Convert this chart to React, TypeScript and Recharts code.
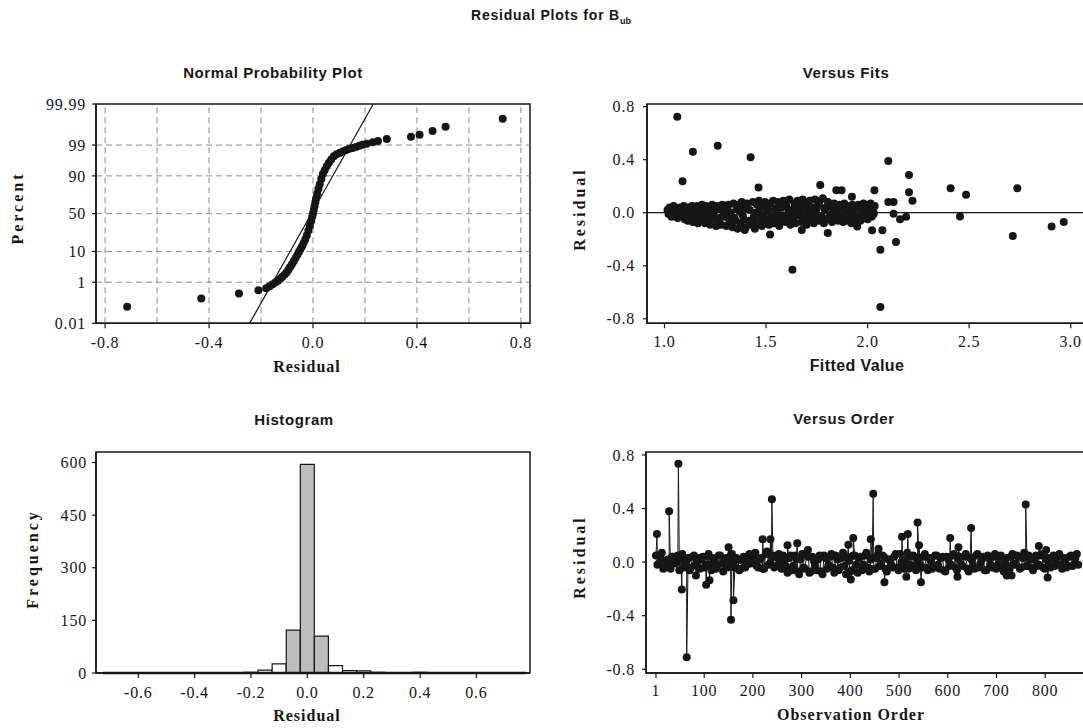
import React from 'react';
import {
  ScatterChart,
  Scatter,
  BarChart,
  Bar,
  Cell,
  XAxis,
  YAxis,
  ReferenceLine,
  ReferenceArea,
} from 'recharts';

// ---- Normal probability plot: [residual, percent]
const normalPoints: [number, number][] = [
  [-0.715, 0.08], [-0.43, 0.2], [-0.285, 0.34], [-0.21, 0.47], [-0.18, 0.57],
  [-0.168, 0.68], [-0.156, 0.82], [-0.145, 0.97], [-0.135, 1.15], [-0.126, 1.35],
  [-0.118, 1.6], [-0.11, 1.9], [-0.102, 2.3], [-0.095, 2.8], [-0.088, 3.5],
  [-0.081, 4.3], [-0.074, 5.3], [-0.067, 6.6], [-0.06, 8.2], [-0.054, 9.8],
  [-0.048, 11.5], [-0.042, 13.5], [-0.036, 16], [-0.03, 19], [-0.024, 23],
  [-0.018, 28], [-0.012, 34], [-0.007, 40], [-0.003, 46], [0.0, 50],
  [0.003, 55], [0.006, 60], [0.009, 65], [0.012, 70], [0.016, 75],
  [0.021, 80], [0.026, 84], [0.032, 88], [0.038, 91], [0.045, 93],
  [0.053, 94.6], [0.061, 95.8], [0.07, 96.7], [0.08, 97.4], [0.091, 97.8],
  [0.104, 98.05], [0.116, 98.3], [0.128, 98.45], [0.14, 98.6], [0.152, 98.7],
  [0.165, 98.82], [0.178, 98.93], [0.19, 99.02], [0.207, 99.12], [0.23, 99.22],
  [0.25, 99.32], [0.284, 99.43], [0.377, 99.55], [0.41, 99.63], [0.46, 99.75],
  [0.51, 99.84], [0.73, 99.936],
];
const normalFitLine: [number, number][] = [[-0.244, 0.01], [0.232, 99.99]];
const percentTicks = [0.01, 1, 10, 50, 90, 99, 99.99];
const percentGrid = [1, 10, 50, 90, 99];
const normalResidTicks = [-0.8, -0.4, 0, 0.4, 0.8];
const normalResidGrid = [-0.8, -0.6, -0.4, -0.2, 0, 0.2, 0.4, 0.6, 0.8];

// ---- Versus fits: [fitted value, residual]
const fitsCluster: [number, number][] = [
  [1.015, 0.02], [1.02, -0.01], [1.025, 0.04], [1.035, -0.03], [1.04, 0.01], [1.045, 0.05],
  [1.055, -0.02], [1.06, 0.03], [1.065, -0.04], [1.075, 0.04], [1.08, 0.0], [1.085, -0.03],
  [1.095, 0.05], [1.1, -0.05], [1.105, 0.02], [1.115, -0.06], [1.12, 0.04], [1.125, -0.01],
  [1.135, 0.05], [1.14, -0.07], [1.145, 0.01], [1.155, -0.04], [1.16, 0.05], [1.165, -0.08],
  [1.175, 0.03], [1.18, -0.05], [1.185, 0.06], [1.195, -0.02], [1.2, -0.08], [1.205, 0.05],
  [1.215, -0.06], [1.22, 0.02], [1.225, -0.09], [1.235, 0.06], [1.24, -0.04], [1.245, 0.01],
  [1.255, -0.1], [1.26, 0.05], [1.265, -0.06], [1.275, 0.03], [1.28, -0.09], [1.285, 0.06],
  [1.295, -0.03], [1.3, 0.04], [1.305, -0.1], [1.315, 0.06], [1.32, -0.07], [1.325, 0.0],
  [1.335, -0.11], [1.34, 0.07], [1.345, -0.04], [1.355, 0.03], [1.36, -0.12], [1.365, 0.06],
  [1.375, -0.08], [1.38, 0.08], [1.385, -0.02], [1.395, 0.04], [1.4, -0.11], [1.405, 0.07],
  [1.415, -0.06], [1.42, 0.02], [1.425, -0.09], [1.435, 0.08], [1.44, -0.03], [1.445, -0.12],
  [1.455, 0.06], [1.46, -0.07], [1.465, 0.09], [1.475, -0.02], [1.48, -0.1], [1.485, 0.05],
  [1.495, 0.08], [1.5, -0.06], [1.505, 0.01], [1.515, -0.09], [1.52, 0.07], [1.525, -0.03],
  [1.535, 0.09], [1.54, -0.08], [1.545, 0.03], [1.555, -0.05], [1.56, 0.08], [1.565, -0.1],
  [1.575, 0.04], [1.58, -0.02], [1.585, 0.09], [1.595, -0.07], [1.6, 0.05], [1.605, -0.04],
  [1.615, 0.1], [1.62, -0.09], [1.625, 0.02], [1.635, -0.05], [1.64, 0.07], [1.645, -0.08],
  [1.655, 0.09], [1.66, -0.02], [1.665, 0.04], [1.675, -0.07], [1.68, 0.1], [1.685, -0.04],
  [1.695, 0.06], [1.7, -0.09], [1.705, 0.01], [1.715, 0.09], [1.72, -0.05], [1.725, 0.04],
  [1.735, -0.08], [1.74, 0.1], [1.745, -0.02], [1.755, 0.06], [1.76, -0.06], [1.765, 0.09],
  [1.775, -0.03], [1.78, 0.11], [1.785, -0.08], [1.795, 0.04], [1.8, -0.05], [1.805, 0.08],
  [1.815, -0.02], [1.82, 0.05], [1.825, -0.07], [1.835, 0.07], [1.84, -0.04], [1.845, 0.01],
  [1.855, -0.06], [1.86, 0.06], [1.865, -0.02], [1.875, 0.04], [1.88, -0.07], [1.885, 0.07],
  [1.895, -0.03], [1.9, 0.05], [1.905, -0.06], [1.915, 0.02], [1.92, -0.08], [1.925, 0.06],
  [1.935, -0.04], [1.94, 0.04], [1.945, -0.07], [1.955, 0.06], [1.96, -0.02], [1.965, -0.06],
  [1.975, 0.03], [1.98, 0.07], [1.985, -0.04], [1.995, 0.05], [2.0, -0.05], [2.005, 0.01],
  [2.015, 0.07], [2.02, -0.03], [2.025, 0.04], [2.03, -0.01], [2.035, 0.05],
];
// residuals sitting close to zero inside the cluster
const fitsCore: [number, number][] = [
  [1.03, 0.0], [1.05, 0.02], [1.07, -0.01], [1.09, 0.01], [1.11, -0.02], [1.13, 0.02],
  [1.15, -0.03], [1.17, 0.0], [1.19, 0.02], [1.21, -0.03], [1.23, -0.01], [1.25, 0.02],
  [1.27, -0.04], [1.29, 0.0], [1.31, 0.03], [1.33, -0.03], [1.35, -0.06], [1.37, 0.01],
  [1.39, -0.05], [1.41, 0.03], [1.43, -0.06], [1.45, 0.0], [1.47, 0.03], [1.49, -0.04],
  [1.51, 0.02], [1.53, -0.05], [1.55, 0.0], [1.57, 0.04], [1.59, -0.03], [1.61, 0.02],
  [1.63, -0.02], [1.65, 0.03], [1.67, -0.01], [1.69, 0.04], [1.71, -0.03], [1.73, 0.01],
  [1.75, 0.03], [1.77, -0.05], [1.79, 0.02], [1.81, -0.04], [1.83, 0.01], [1.85, 0.02],
  [1.87, -0.03], [1.89, 0.0], [1.91, -0.02], [1.93, 0.01], [1.95, -0.04], [1.97, 0.0],
  [1.99, -0.02], [2.01, 0.02], [2.03, 0.0], [1.26, -0.06], [1.36, 0.05], [1.46, -0.08],
  [1.56, -0.07], [1.66, 0.06], [1.76, 0.06], [1.86, -0.05], [1.96, 0.04],
];
const fitsOutliers: [number, number][] = [
  [1.063, 0.724], [1.089, 0.238], [1.14, 0.46], [1.262, 0.506], [1.424, 0.418],
  [1.463, 0.19], [1.395, -0.13], [1.52, -0.165], [1.63, -0.43], [1.676, -0.13],
  [1.767, 0.21], [1.804, -0.153], [1.846, 0.17], [1.872, 0.17], [1.923, 0.12],
  [1.949, -0.103], [2.022, -0.133], [2.034, 0.17], [2.063, -0.712], [2.063, -0.28],
  [2.073, -0.133], [2.102, 0.39], [2.102, 0.08], [2.128, 0.08], [2.128, -0.008],
  [2.14, -0.22], [2.16, -0.05], [2.19, -0.03], [2.204, 0.285], [2.204, 0.155],
  [2.221, 0.09], [2.409, 0.185], [2.455, -0.028], [2.485, 0.135], [2.715, -0.176],
  [2.737, 0.185], [2.906, -0.103], [2.966, -0.07],
];
const fitsTicks = [1.0, 1.5, 2.0, 2.5, 3.0];
const residTicks = [-0.8, -0.4, 0, 0.4, 0.8];

// ---- Histogram of residuals (bin mid, count)
const binWidth = 0.05;
const binMids = [-0.7, -0.45, -0.3, -0.2, -0.15, -0.1, -0.05, 0, 0.05, 0.1, 0.15, 0.2, 0.25, 0.3, 0.4, 0.45, 0.5, 0.75];
const binCounts = [1, 1, 1, 2, 8, 26, 122, 595, 105, 21, 7, 6, 2, 1, 2, 1, 1, 1];
const freqTicks = [0, 150, 300, 450, 600];
const histTicks = [-0.6, -0.4, -0.2, 0, 0.2, 0.4, 0.6];

// ---- Versus order: two interleaved samples of the band (obs 1,7,13,... and 4,10,16,...) plus the spikes
const orderStep = 6;
const orderBandA = [
  0.05, -0.01, 0.07, -0.04, 0.02, -0.05, 0.04, 0.0, -0.06, 0.06, -0.02, 0.03, -0.04, 0.05, 0.01,
  -0.05, 0.04, -0.02, 0.06, -0.06, 0.01, -0.03, 0.05, -0.07, 0.03, 0.0, 0.06, -0.04, 0.02, -0.05,
  0.04, -0.02, 0.06, 0.0, 0.07, -0.04, 0.03, -0.05, 0.08, -0.01, 0.05, -0.03, 0.06, -0.05, 0.02,
  -0.08, 0.05, -0.03, 0.02, -0.09, 0.06, -0.05, 0.04, -0.07, 0.01, -0.06, 0.05, -0.09, 0.03, -0.02,
  0.06, -0.08, 0.02, -0.04, 0.07, -0.09, 0.01, -0.06, 0.05, -0.08, 0.04, -0.02, 0.07, -0.07, 0.03,
  -0.05, 0.06, -0.01, 0.04, -0.07, 0.02, -0.04, 0.06, -0.06, 0.0, -0.05, 0.07, -0.02, 0.05, -0.06,
  0.03, -0.04, 0.06, -0.06, 0.01, -0.03, 0.05, -0.05, 0.04, -0.07, 0.02, -0.02, 0.06, -0.06, 0.04,
  -0.03, 0.06, -0.07, 0.02, -0.05, 0.06, -0.01, 0.04, -0.06, 0.03, -0.04, 0.06, -0.02, 0.05, -0.07,
  0.03, -0.05, 0.06, -0.01, 0.04, -0.04, 0.07, -0.03, 0.02, -0.06, 0.05, -0.02, 0.06, -0.05, 0.03,
  -0.04, 0.05, -0.01, 0.06, -0.05, 0.02, -0.03, 0.05, -0.02, 0.06,
];
const orderBandB = [
  -0.02, 0.03, -0.05, 0.01, -0.03, 0.04, -0.01, 0.05, 0.02, -0.04, 0.01, -0.06, 0.04, -0.02, 0.03,
  0.02, -0.04, 0.04, -0.02, 0.03, -0.05, 0.05, -0.01, 0.02, -0.04, 0.05, -0.02, 0.03, -0.06, 0.01,
  -0.04, 0.03, -0.01, 0.05, -0.03, 0.02, -0.05, 0.06, -0.02, 0.04, -0.04, 0.03, -0.01, 0.05, -0.03,
  0.03, -0.06, 0.05, -0.07, 0.02, -0.04, 0.06, -0.08, 0.04, -0.03, 0.02, -0.07, 0.05, -0.05, 0.04,
  -0.04, 0.05, -0.06, 0.03, -0.03, 0.04, -0.07, 0.05, -0.02, 0.03, -0.06, 0.05, -0.04, 0.02, -0.05,
  0.03, -0.03, 0.05, -0.05, 0.02, -0.02, 0.04, -0.04, 0.06, -0.03, 0.02, -0.05, 0.04, -0.03, 0.02,
  -0.02, 0.04, -0.04, 0.03, -0.05, 0.05, -0.02, 0.03, -0.06, 0.04, -0.03, 0.05, -0.04, 0.02, -0.02,
  0.04, -0.05, 0.03, -0.03, 0.05, -0.04, 0.02, -0.06, 0.05, -0.02, 0.04, -0.05, 0.03, -0.03, 0.02,
  -0.03, 0.04, -0.02, 0.05, -0.05, 0.03, -0.03, 0.05, -0.04, 0.02, -0.03, 0.05, -0.04, 0.02, -0.02,
  0.03, -0.03, 0.04, -0.02, 0.03, -0.04, 0.04, -0.03, 0.03, -0.02,
];
const orderSpikes: [number, number][] = [
  [3, 0.21], [28, 0.38], [47, 0.735], [54, -0.205], [64, -0.71], [83, -0.1],
  [104, -0.17], [111, -0.135], [150, 0.11], [155, -0.43], [160, -0.285], [220, 0.17],
  [236, 0.17], [239, 0.47], [271, 0.125], [291, 0.14], [313, 0.09], [396, 0.13],
  [401, -0.13], [406, 0.18], [442, 0.17], [447, 0.51], [458, 0.1], [470, -0.15],
  [506, 0.19], [515, -0.11], [518, 0.21], [538, 0.295], [541, 0.125], [545, -0.15],
  [605, 0.18], [620, -0.11], [622, 0.11], [648, 0.255], [721, -0.1], [731, -0.1],
  [760, 0.43], [787, 0.12], [802, 0.09], [805, -0.115],
];
const orderTicks = [1, 100, 200, 300, 400, 500, 600, 700, 800];

// inverse normal CDF (Acklam), used for the probability axis
function probit(p: number): number {
  const a = [-39.69683028665376, 220.9460984245205, -275.9285104469687, 138.357751867269, -30.66479806614716, 2.506628277459239];
  const b = [-54.47609879822406, 161.5858368580409, -155.6989798598866, 66.80131188771972, -13.28068155211313];
  const c = [-0.007784894002430293, -0.3223964580411365, -2.400758277161838, -2.549732539343734, 4.374664141464968, 2.938163982698783];
  const d = [0.007784695709041462, 0.3224671290700398, 2.445134137142996, 3.754408661907416];
  const lo = 0.02425;
  if (p < lo) {
    const q = Math.sqrt(-2 * Math.log(p));
    return (((((c[0] * q + c[1]) * q + c[2]) * q + c[3]) * q + c[4]) * q + c[5]) / ((((d[0] * q + d[1]) * q + d[2]) * q + d[3]) * q + 1);
  }
  if (p > 1 - lo) {
    const q = Math.sqrt(-2 * Math.log(1 - p));
    return -(((((c[0] * q + c[1]) * q + c[2]) * q + c[3]) * q + c[4]) * q + c[5]) / ((((d[0] * q + d[1]) * q + d[2]) * q + d[3]) * q + 1);
  }
  const q = p - 0.5;
  const r = q * q;
  return ((((((a[0] * r + a[1]) * r + a[2]) * r + a[3]) * r + a[4]) * r + a[5]) * q) / (((((b[0] * r + b[1]) * r + b[2]) * r + b[3]) * r + b[4]) * r + 1);
}

const pz = (pct: number) => probit(pct / 100);

const serif = '"Liberation Serif", "Times New Roman", serif';
const sans = '"Liberation Sans", Arial, sans-serif';
const ink = '#161616';
const gridColor = '#8c8c8c';

const tickStyle = { fill: ink, fontSize: 16, fontFamily: serif, letterSpacing: 0.8 };

const YW = 70;
const XH = 40;
const MT = 10;
const MR = 10;

type Rect = { left: number; top: number; width: number; height: number };

const dot = (props: any) => <circle cx={props.cx} cy={props.cy} r={4} fill={ink} />;

function Panel({ plot, children }: { plot: Rect; children: (w: number, h: number) => React.ReactNode }) {
  const w = YW + plot.width + MR;
  const h = MT + plot.height + XH;
  return (
    <div style={{ position: 'absolute', left: plot.left - YW, top: plot.top - MT, width: w, height: h }}>
      {children(w, h)}
    </div>
  );
}

function Text({ x, y, children, vertical, style }: { x: number; y: number; children: React.ReactNode; vertical?: boolean; style?: React.CSSProperties }) {
  return (
    <div
      style={{
        position: 'absolute',
        left: x,
        top: y,
        whiteSpace: 'nowrap',
        color: ink,
        lineHeight: 1,
        transform: `translate(-50%, -50%)${vertical ? ' rotate(-90deg)' : ''}`,
        ...style,
      }}
    >
      {children}
    </div>
  );
}

const titleStyle: React.CSSProperties = { fontFamily: sans, fontWeight: 700, fontSize: 15, letterSpacing: 0.6 };
const axisTitle: React.CSSProperties = { fontFamily: serif, fontWeight: 700, fontSize: 16, letterSpacing: 1 };
const axisTitleV: React.CSSProperties = { fontFamily: serif, fontWeight: 700, fontSize: 16, letterSpacing: 3 };

export default function App() {
  // Normal probability plot
  const zMin = pz(0.01);
  const zMax = pz(99.99);
  const normalData = normalPoints.map(([x, pct]) => ({ x, y: pz(pct) }));
  const pTicks = percentTicks.map(pz);
  const pLabel = (v: number) => {
    let best = 0;
    pTicks.forEach((t, i) => {
      if (Math.abs(t - v) < Math.abs(pTicks[best] - v)) best = i;
    });
    return String(percentTicks[best]);
  };
  const normalDomain: [number, number] = [-0.835, 0.835];

  // Versus fits
  const fitsData = [...fitsCluster, ...fitsCore, ...fitsOutliers].map(([x, y]) => ({ x, y }));
  const fitsDomain: [number, number] = [0.914, 3.1];
  const fitsY: [number, number] = [-0.834, 0.82];

  // Histogram
  const histData = binMids.map((mid, i) => ({ mid, count: binCounts[i] }));
  const histDomain: [number, number] = [-0.75, 0.79];

  // Versus order
  const orderData = [
    ...orderBandA.map((y, i) => ({ x: 1 + orderStep * i, y })),
    ...orderBandB.map((y, i) => ({ x: 4 + orderStep * i, y })),
    ...orderSpikes.map(([x, y]) => ({ x, y })),
  ].sort((a, b) => a.x - b.x);
  const orderDomain: [number, number] = [-19.5, 890];
  const orderY: [number, number] = [-0.828, 0.822];

  const normalPlot: Rect = { left: 96, top: 104, width: 434, height: 219.3 };
  const fitsPlot: Rect = { left: 646.6, top: 104, width: 444, height: 219.3 };
  const histPlot: Rect = { left: 96, top: 452.3, width: 434, height: 221 };
  const orderPlot: Rect = { left: 646, top: 451.7, width: 443, height: 221 };

  const margin = { top: MT, right: MR, bottom: 0, left: 0 };
  const axisLine = { stroke: ink, strokeWidth: 1.5 };
  const tickLine = { stroke: ink, strokeWidth: 1.2 };
  const fmt1 = (v: number) => v.toFixed(1);

  return (
    <div style={{ position: 'absolute', left: 0, top: 0, width: 1083, height: 728, overflow: 'hidden', background: '#fff' }}>
      <Text x={551} y={17} style={{ fontFamily: sans, fontWeight: 700, fontSize: 14, letterSpacing: 0.8 }}>
        Residual Plots for B<sub style={{ fontSize: 9, letterSpacing: 0 }}>ub</sub>
      </Text>

      {/* Normal probability plot */}
      <Text x={273} y={72} style={titleStyle}>Normal Probability Plot</Text>
      <Panel plot={normalPlot}>
        {(w, h) => (
          <ScatterChart width={w} height={h} margin={margin}>
            <XAxis
              type="number"
              dataKey="x"
              domain={normalDomain}
              ticks={normalResidTicks}
              interval={0}
              allowDataOverflow
              tickFormatter={fmt1}
              tick={tickStyle}
              tickSize={5}
              tickMargin={8}
              axisLine={axisLine}
              tickLine={tickLine}
              height={XH}
            />
            <YAxis
              type="number"
              dataKey="y"
              domain={[zMin, zMax]}
              ticks={pTicks}
              interval={0}
              allowDataOverflow
              tickFormatter={pLabel}
              tick={tickStyle}
              tickSize={4}
              tickMargin={6}
              axisLine={axisLine}
              tickLine={tickLine}
              width={YW}
            />
            {normalResidGrid.map((g) => (
              <ReferenceLine key={`vx${g}`} x={g} stroke={gridColor} strokeDasharray="6 4" />
            ))}
            {percentGrid.map((g) => (
              <ReferenceLine key={`hy${g}`} y={pz(g)} stroke={gridColor} strokeDasharray="6 4" />
            ))}
            <ReferenceArea x1={normalDomain[0]} x2={normalDomain[1]} y1={zMin} y2={zMax} fill="none" stroke={ink} strokeWidth={1.5} ifOverflow="visible" />
            <ReferenceLine
              segment={normalFitLine.map(([x, pct]) => ({ x, y: pz(pct) }))}
              stroke={ink}
              strokeWidth={1.2}
            />
            <Scatter data={normalData} shape={dot} isAnimationActive={false} />
          </ScatterChart>
        )}
      </Panel>
      <Text x={18} y={208} vertical style={axisTitleV}>Percent</Text>
      <Text x={307} y={367} style={axisTitle}>Residual</Text>

      {/* Versus fits */}
      <Text x={846} y={72} style={titleStyle}>Versus Fits</Text>
      <Panel plot={fitsPlot}>
        {(w, h) => (
          <ScatterChart width={w} height={h} margin={margin}>
            <XAxis
              type="number"
              dataKey="x"
              domain={fitsDomain}
              ticks={fitsTicks}
              interval={0}
              allowDataOverflow
              tickFormatter={fmt1}
              tick={tickStyle}
              tickSize={5}
              tickMargin={7}
              axisLine={axisLine}
              tickLine={tickLine}
              height={XH}
            />
            <YAxis
              type="number"
              dataKey="y"
              domain={fitsY}
              ticks={residTicks}
              interval={0}
              allowDataOverflow
              tickFormatter={fmt1}
              tick={tickStyle}
              tickSize={4}
              tickMargin={8}
              axisLine={axisLine}
              tickLine={tickLine}
              width={YW}
            />
            <ReferenceArea x1={fitsDomain[0]} x2={fitsDomain[1]} y1={fitsY[0]} y2={fitsY[1]} fill="none" stroke={ink} strokeWidth={1.5} ifOverflow="visible" />
            <ReferenceLine y={0} stroke={ink} strokeWidth={1.2} />
            <Scatter data={fitsData} shape={dot} isAnimationActive={false} />
          </ScatterChart>
        )}
      </Panel>
      <Text x={580} y={209} vertical style={axisTitleV}>Residual</Text>
      <Text x={857} y={366} style={{ fontFamily: sans, fontWeight: 700, fontSize: 16, letterSpacing: 0.4 }}>Fitted Value</Text>

      {/* Histogram */}
      <Text x={294} y={419} style={titleStyle}>Histogram</Text>
      <Panel plot={histPlot}>
        {(w, h) => (
          <BarChart width={w} height={h} margin={margin} data={histData}>
            <XAxis
              type="number"
              dataKey="mid"
              domain={histDomain}
              ticks={histTicks}
              interval={0}
              allowDataOverflow
              tickFormatter={fmt1}
              tick={tickStyle}
              tickSize={5}
              tickMargin={9}
              axisLine={axisLine}
              tickLine={tickLine}
              height={XH}
            />
            <YAxis
              type="number"
              domain={[0, 630]}
              ticks={freqTicks}
              interval={0}
              allowDataOverflow
              tick={tickStyle}
              tickSize={4}
              tickMargin={5}
              axisLine={axisLine}
              tickLine={tickLine}
              width={YW}
            />
            <ReferenceArea x1={histDomain[0]} x2={histDomain[1]} y1={0} y2={630} fill="none" stroke={ink} strokeWidth={1.5} ifOverflow="visible" />
            <Bar dataKey="count" barSize={14} stroke={ink} strokeWidth={1.2} isAnimationActive={false}>
              {histData.map((d) => (
                <Cell key={d.mid} fill={d.count >= 100 ? '#bdbdbd' : '#ffffff'} />
              ))}
            </Bar>
            <ReferenceLine
              segment={[
                { x: binMids[0] - binWidth / 2, y: 0 },
                { x: binMids[binMids.length - 1] + binWidth / 2, y: 0 },
              ]}
              stroke={ink}
              strokeWidth={2.5}
            />
          </BarChart>
        )}
      </Panel>
      <Text x={33} y={559} vertical style={axisTitleV}>Frequency</Text>
      <Text x={307} y={716} style={axisTitle}>Residual</Text>

      {/* Versus order */}
      <Text x={844} y={418} style={titleStyle}>Versus Order</Text>
      <Panel plot={orderPlot}>
        {(w, h) => (
          <ScatterChart width={w} height={h} margin={margin}>
            <XAxis
              type="number"
              dataKey="x"
              domain={orderDomain}
              ticks={orderTicks}
              interval={0}
              allowDataOverflow
              tick={tickStyle}
              tickSize={5}
              tickMargin={7}
              axisLine={axisLine}
              tickLine={tickLine}
              height={XH}
            />
            <YAxis
              type="number"
              dataKey="y"
              domain={orderY}
              ticks={residTicks}
              interval={0}
              allowDataOverflow
              tickFormatter={fmt1}
              tick={tickStyle}
              tickSize={4}
              tickMargin={7}
              axisLine={axisLine}
              tickLine={tickLine}
              width={YW}
            />
            <ReferenceArea x1={orderDomain[0]} x2={orderDomain[1]} y1={orderY[0]} y2={orderY[1]} fill="none" stroke={ink} strokeWidth={1.5} ifOverflow="visible" />
            <Scatter
              data={orderData}
              line={{ stroke: ink, strokeWidth: 1 }}
              shape={dot}
              isAnimationActive={false}
            />
          </ScatterChart>
        )}
      </Panel>
      <Text x={580} y={557} vertical style={axisTitleV}>Residual</Text>
      <Text x={851} y={715} style={axisTitle}>Observation Order</Text>
    </div>
  );
}
